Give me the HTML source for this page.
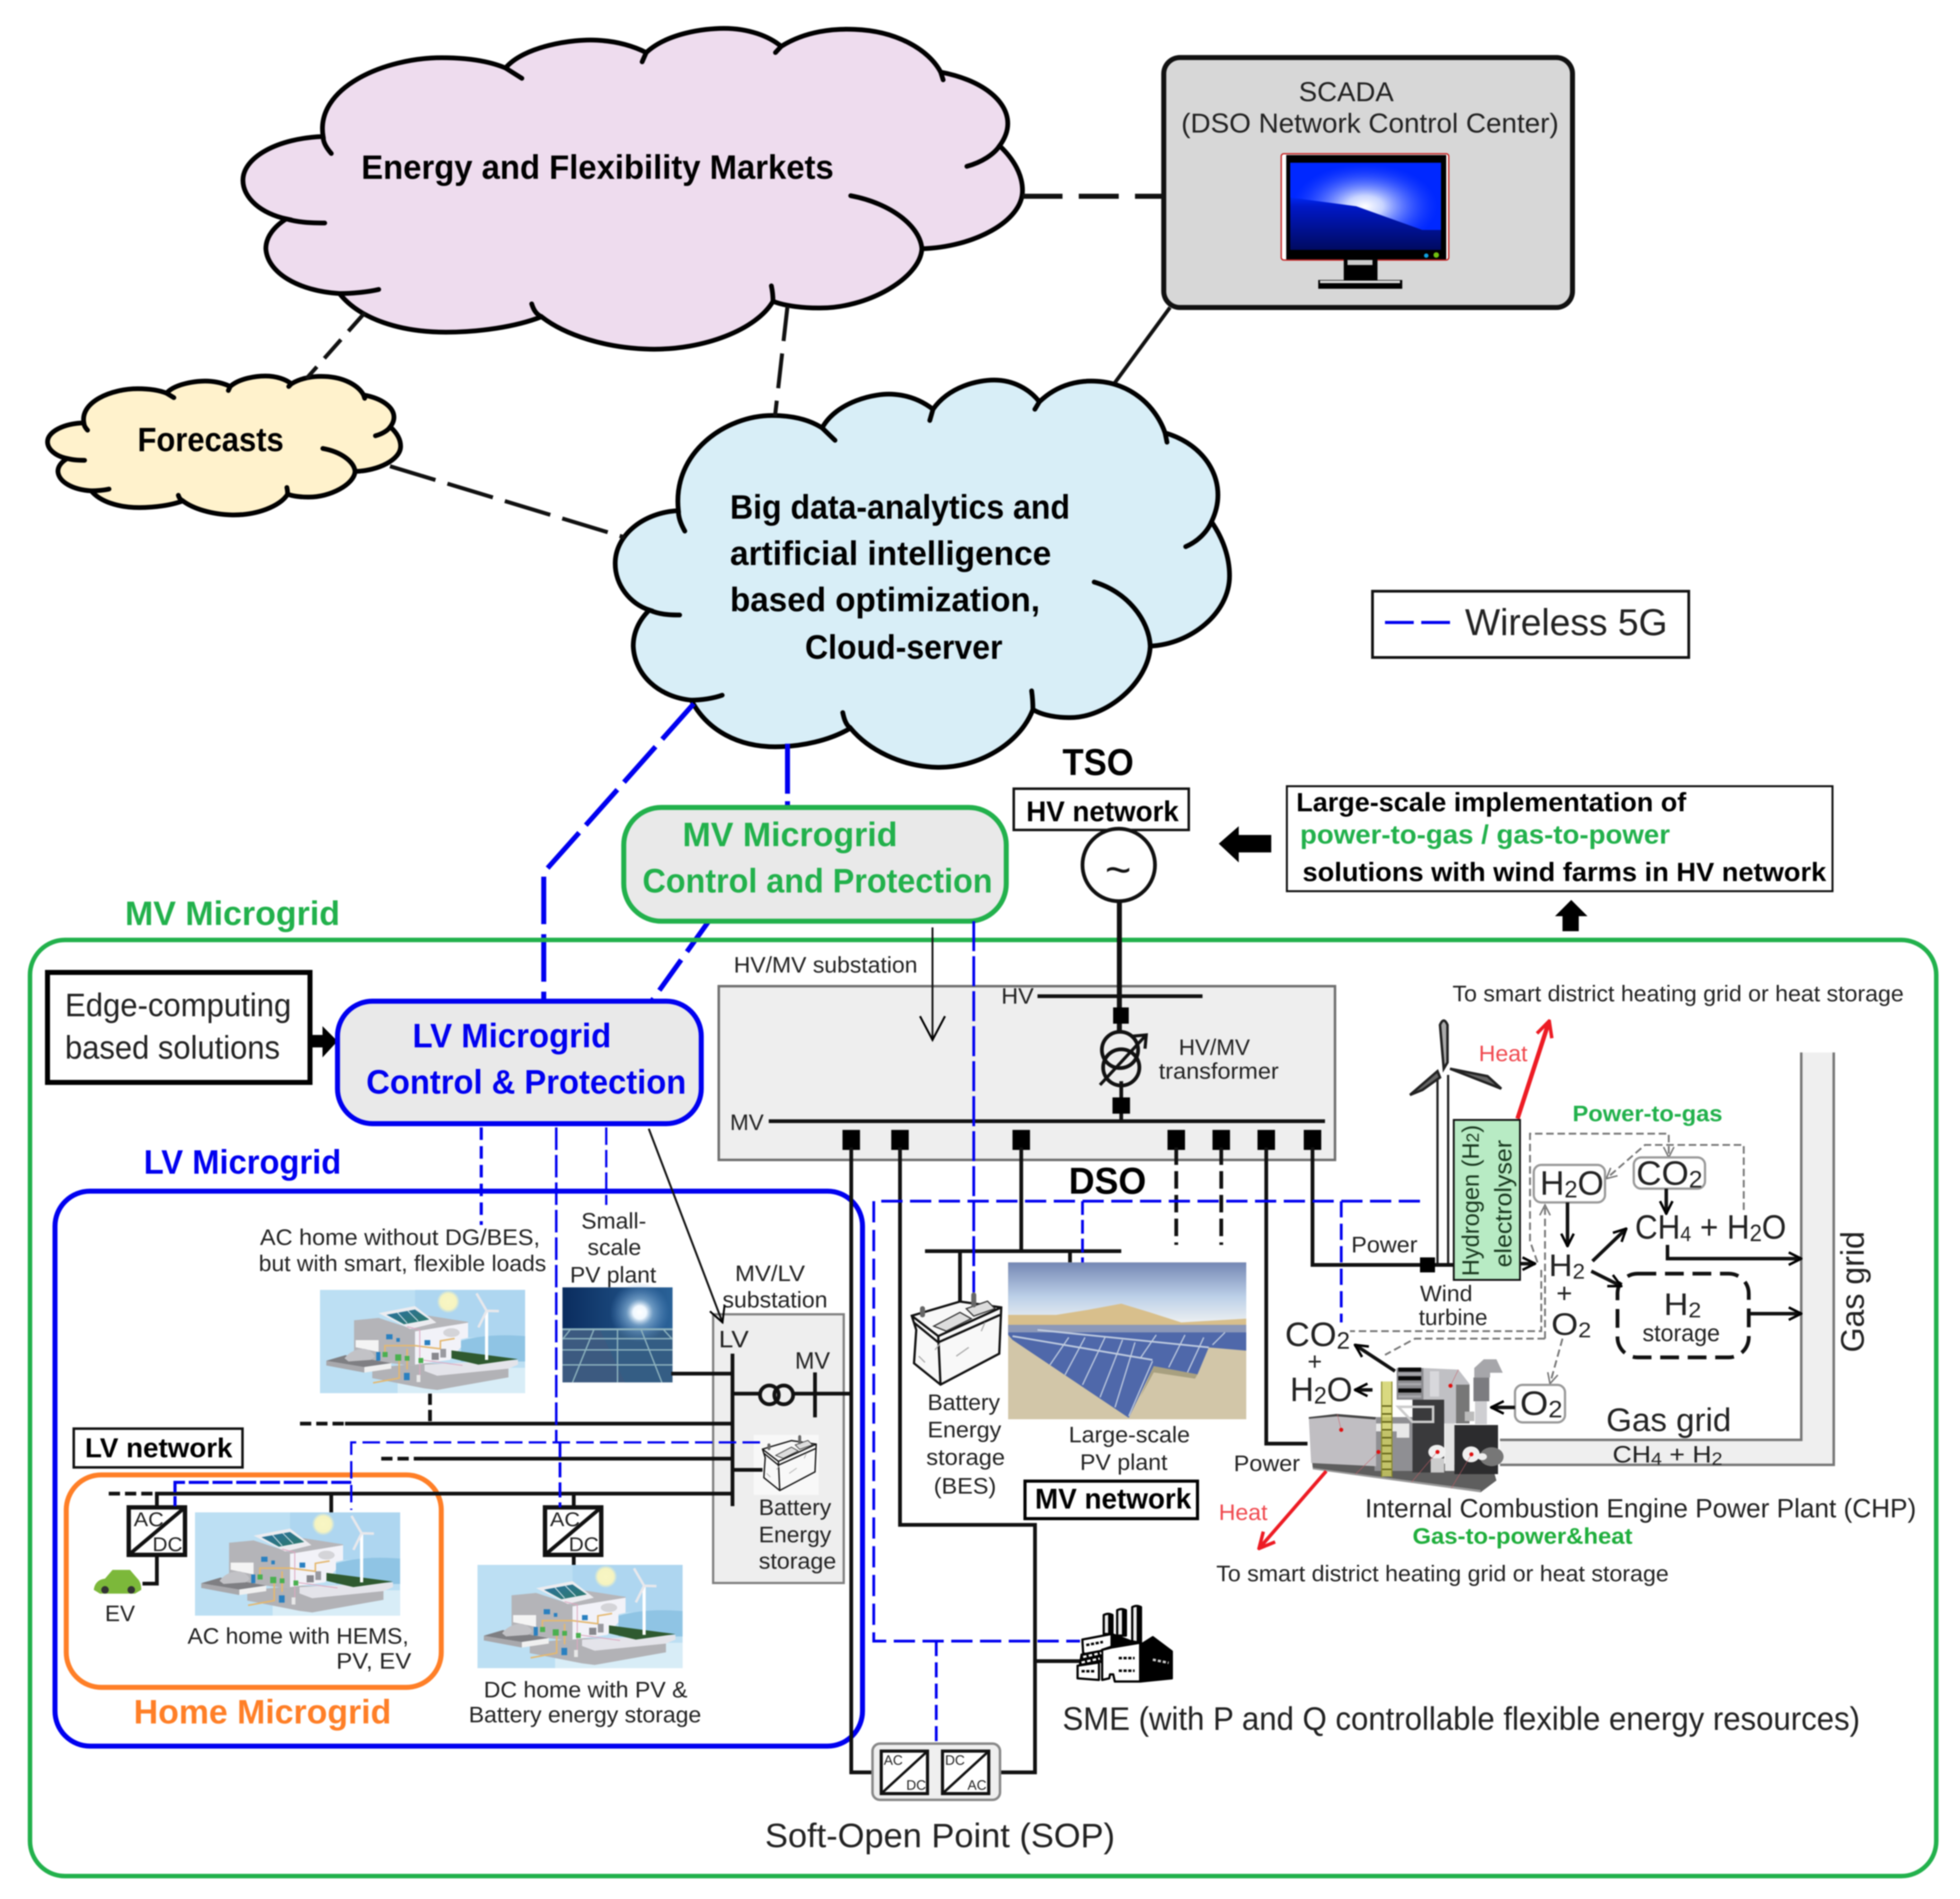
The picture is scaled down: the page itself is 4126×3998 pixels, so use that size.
<!DOCTYPE html>
<html><head><meta charset="utf-8"><style>
html,body{margin:0;padding:0;background:#fff}
svg{display:block;filter:blur(1.4px)}
text{font-family:"Liberation Sans",sans-serif;fill:#222}
.b{font-weight:bold;fill:#000}
.c path{vector-effect:non-scaling-stroke;stroke:#000;stroke-width:10;stroke-linecap:round}
</style></head><body>
<svg xmlns="http://www.w3.org/2000/svg" width="4126" height="3998" viewBox="0 0 1568 1519.3">
<defs>
<linearGradient id="scr" x1="0" y1="0" x2="0" y2="1"><stop offset="0" stop-color="#0028ff"/><stop offset=".4" stop-color="#0028f0"/><stop offset=".5" stop-color="#0018c8"/><stop offset="1" stop-color="#000a60"/></linearGradient>
<radialGradient id="glare" cx=".5" cy=".5" r=".5"><stop offset="0" stop-color="#fff"/><stop offset=".25" stop-color="#c8d4ff"/><stop offset="1" stop-color="#3050ff" stop-opacity="0"/></radialGradient>
<clipPath id="scrClip"><path d="M1032.200 130.200H1152.800V184L1138 184L1085 165L1032.200 158Z"/></clipPath>
<linearGradient id="sky" x1="0" y1="0" x2="0" y2="1"><stop offset="0" stop-color="#7487b4"/><stop offset=".55" stop-color="#bcd0e8"/><stop offset="1" stop-color="#f0f2f2"/></linearGradient>
<linearGradient id="pvs" x1="0" y1="0" x2="1" y2="0"><stop offset="0" stop-color="#0a2c5e"/><stop offset="1" stop-color="#2a6298"/></linearGradient>
<radialGradient id="sun"><stop offset="0" stop-color="#fff"/><stop offset=".22" stop-color="#f0f8ff"/><stop offset=".45" stop-color="#8ab4d8" stop-opacity=".7"/><stop offset="1" stop-color="#5a90c8" stop-opacity="0"/></radialGradient>
<radialGradient id="sunh"><stop offset="0" stop-color="#f8f6c4"/><stop offset=".7" stop-color="#f6f4c0"/><stop offset="1" stop-color="#f6f4c0" stop-opacity="0"/></radialGradient>
<linearGradient id="panel" x1="0" y1="0" x2="1" y2="1"><stop offset="0" stop-color="#2a70a0"/><stop offset="1" stop-color="#2e7a68"/></linearGradient>
<marker id="a" viewBox="0 0 12 12" refX="11" refY="6" markerWidth="12" markerHeight="12" markerUnits="userSpaceOnUse" orient="auto"><path d="M1 1L11 6L1 11" fill="none" stroke="#000" stroke-width="2"/></marker>
<marker id="a2" viewBox="0 0 24 24" refX="22" refY="12" markerWidth="24" markerHeight="24" markerUnits="userSpaceOnUse" orient="auto"><path d="M3 2L22 12L3 22" fill="none" stroke="#000" stroke-width="1.600"/></marker>
<marker id="a3" viewBox="0 0 24 24" refX="22" refY="12" markerWidth="15" markerHeight="15" markerUnits="userSpaceOnUse" orient="auto"><path d="M3 2L22 12L3 22" fill="none" stroke="#000" stroke-width="2.500"/></marker>
<marker id="ag" viewBox="0 0 12 12" refX="11" refY="6" markerWidth="10" markerHeight="10" markerUnits="userSpaceOnUse" orient="auto"><path d="M1 1L11 6L1 11" fill="none" stroke="#777" stroke-width="1.500"/></marker>
<marker id="ar" viewBox="0 0 12 12" refX="10" refY="6" markerWidth="15" markerHeight="15" markerUnits="userSpaceOnUse" orient="auto"><path d="M1 1L11 6L1 11" fill="none" stroke="#ed1c24" stroke-width="2.200"/></marker>
<g id="cl" class="c">
<path d="M395 265C385 170 470 112 540 112C575 112 600 120 618 132C640 90 700 75 730 78C755 80 775 90 790 102C815 65 860 55 885 55C915 55 940 70 955 90C985 60 1020 55 1045 57C1095 60 1135 95 1150 140C1200 155 1232 195 1232 240C1232 255 1228 270 1222 283C1240 310 1250 340 1250 370C1250 430 1190 480 1127 483C1125 540 1060 600 1000 598C985 598 960 595 945 585C925 640 860 680 795 678C740 676 690 650 662 615C630 635 585 645 545 645C490 645 440 620 415 570C365 565 327 530 325 483C325 460 335 440 350 425C320 415 297 385 297 350C297 305 340 268 395 265Z"/>
<path fill="none" d="M405 298C398 285 395 275 395 265M618 132L638 152M785 120L790 102M948 102L955 90M1150 140L1153 155M1222 283C1215 300 1200 315 1182 323M1040 380C1090 395 1125 440 1127 483M943 555C945 570 945 580 945 585M662 615C655 610 652 600 650 590M415 570C430 570 450 567 463 562M350 425C365 432 380 433 397 433"/>
</g>
<g id="house" transform="translate(-5.070 -6.080) scale(.1267)">
<rect x="40" y="48" width="1295" height="652" fill="#bcdff3"/>
<rect x="640" y="48" width="695" height="300" fill="#aed6f0"/>
<rect x="530" y="540" width="805" height="160" fill="#d8edf7"/>
<path d="M930 370Q1100 320 1335 340V500H930Z" fill="#8fc4e4"/>
<circle cx="850" cy="122" r="72" fill="url(#sunh)"/>
<path d="M370 540L370 605L700 670L780 680L1230 600V530L700 510Z" fill="#b2b2b6"/>
<path d="M255 240L410 225L640 300V530L255 480Z" fill="#b4b4b8"/>
<path d="M720 210L975 250V262L640 320L630 290Z" fill="#b6b6ba"/>
<path d="M640 310L975 255V350L930 360V410L860 490L640 520Z" fill="#f2f2f8"/>
<path d="M410 195L640 150L775 255L610 295Z" fill="#ececf0"/>
<path d="M460 205L640 172L730 235L570 265Z" fill="url(#panel)"/>
<path d="M530 192L590 258M595 180L660 245" stroke="#cfe0e8" stroke-width="6" fill="none"/>
<path d="M265 365H410V440L265 410Z" fill="#f4f4f4"/>
<path d="M80 495L200 460L490 510L320 535L80 525Z" fill="#7f7f83"/>
<path d="M80 495V525L320 570V535Z" fill="#a8a8ac"/>
<path d="M320 535L490 510V545L320 570Z" fill="#f0f0f0"/>
<path d="M195 480Q240 420 320 420Q370 430 385 470L360 490L220 500Z" fill="#c2c2c6"/>
<path d="M700 520L1290 490V520L1230 545L780 590L700 560Z" fill="#e4e4ea"/>
<path d="M870 430L1290 485L1040 520L870 480Z" fill="#2f5a30"/>
<path d="M1092 490V185" stroke="#fff" stroke-width="20"/>
<path d="M1092 180L1028 70M1092 180L1170 182M1092 180L1040 285" stroke="#e8e8ec" stroke-width="16"/>
<path d="M375 635L540 605V460M450 460V400H640L800 420V370L890 355M590 420V550" fill="none" stroke="#e4b870" stroke-width="10"/>
<path d="M590 280L670 300V600" fill="none" stroke="#dca8c0" stroke-width="6"/>
<path d="M680 490L940 525" fill="none" stroke="#dca8c0" stroke-width="6"/>
<g fill="#4ab050"><rect x="435" y="440" width="32" height="32"/><rect x="515" y="455" width="38" height="40"/><rect x="575" y="465" width="30" height="30"/><rect x="662" y="478" width="30" height="32"/></g>
<g fill="#2a80c0"><rect x="458" y="328" width="40" height="32"/><rect x="522" y="352" width="22" height="24"/><rect x="700" y="365" width="36" height="32"/><rect x="395" y="440" width="26" height="55"/><rect x="570" y="572" width="36" height="46"/></g>
<rect x="745" y="445" width="45" height="45" fill="#88888e"/><rect x="800" y="420" width="36" height="55" fill="#9a9aa0"/>
<ellipse cx="870" cy="318" rx="52" ry="28" fill="#d4d4d8"/>
<rect x="650" y="585" width="24" height="45" fill="#e8e8e8"/>
</g>
<g id="bat">
<path d="M733 1064L729.400 1052.700L768 1041.300L801 1046L799.400 1083L752.400 1107.800L731.200 1090.700Z" fill="#f8f8f8" stroke="#111" stroke-width="1.800"/>
<path d="M729.400 1052.700L750.600 1069L801 1046M750.600 1069L752.400 1107.800M731 1058L750.600 1074L800 1052" fill="none" stroke="#111" stroke-width="1.800"/>
<path d="M747 1061L768 1050L777 1055L757 1065Z M773 1047L790 1041L796 1047L779 1053Z" fill="#ddd" stroke="#333" stroke-width="1"/>
<path d="M738 1047V1052M779 1036V1044" stroke="#666" stroke-width="4" stroke-linecap="round"/>
<path d="M735 1085L740 1090M748 1080L752 1075M765 1085L775 1078M785 1065L788 1058" stroke="#aaa" stroke-width="1" fill="none"/>
</g>
<g id="conv"><rect width="45" height="38" fill="#fff" stroke="#111" stroke-width="3.500"/><path d="M0 38L45 0" stroke="#111" stroke-width="3"/></g>
</defs>

<!-- clouds -->
<use href="#cl" fill="#eedcee" transform="matrix(.6544 0 0 .412 0 0)"/>
<use href="#cl" fill="#d8eef7" transform="matrix(.5157 0 0 .4973 339 276.700)"/>
<use href="#cl" fill="#fff2cc" transform="matrix(.2964 0 0 .1784 -50 291)"/>

<text class="b" x="289" y="143" font-size="27" textLength="378" lengthAdjust="spacingAndGlyphs">Energy and Flexibility Markets</text>
<text class="b" x="110" y="361" font-size="27" textLength="117" lengthAdjust="spacingAndGlyphs">Forecasts</text>
<text class="b" x="584" y="415" font-size="27" textLength="272" lengthAdjust="spacingAndGlyphs">Big data-analytics and</text>
<text class="b" x="584" y="452" font-size="27" textLength="257" lengthAdjust="spacingAndGlyphs">artificial intelligence</text>
<text class="b" x="584" y="489" font-size="27" textLength="248" lengthAdjust="spacingAndGlyphs">based optimization,</text>
<text class="b" x="644" y="527" font-size="27" textLength="158" lengthAdjust="spacingAndGlyphs">Cloud-server</text>

<!-- SCADA -->
<rect x="931" y="46" width="327" height="200" rx="13" fill="#d7d7d7" stroke="#111" stroke-width="4"/>
<text x="1039" y="81" font-size="22" textLength="76" lengthAdjust="spacingAndGlyphs">SCADA</text>
<text x="945" y="106" font-size="22" textLength="302" lengthAdjust="spacingAndGlyphs">(DSO Network Control Center)</text>
<rect x="1025" y="123" width="134" height="85" rx="2" fill="#fff" stroke="#c41818" stroke-width="1"/>
<rect x="1029" y="124" width="128" height="83.500" fill="#000"/>
<rect x="1032.200" y="130.200" width="120.600" height="69.700" fill="url(#scr)"/>
<g clip-path="url(#scrClip)"><rect x="1032" y="130" width="121" height="70" fill="#0028ff"/><ellipse cx="1092" cy="165" rx="58" ry="34" fill="url(#glare)"/></g>
<circle cx="1141" cy="204.500" r="1.800" fill="#10a0e0"/><circle cx="1149" cy="204" r="2.200" fill="#70c010"/>
<rect x="1075" y="207.500" width="27" height="17" fill="#000"/><rect x="1078" y="208" width="20" height="4" fill="#ccc"/>
<rect x="1054.600" y="224" width="67.200" height="7" fill="#000"/><rect x="1056" y="224.500" width="64" height="2" fill="#ddd"/>

<!-- connectors top -->
<g fill="none" stroke="#111">
<path d="M818 157H931" stroke-width="4" stroke-dasharray="32 13"/>
<path d="M892 306L936 246" stroke-width="3"/>
<path d="M292 250L245 303" stroke-width="3.200" stroke-dasharray="20 9"/>
<path d="M630 245L620 333" stroke-width="3.200" stroke-dasharray="28 10"/>
<path d="M312 373L500 430" stroke-width="3.200" stroke-dasharray="38 10"/>
</g>
<g fill="none" stroke="#0000f0" stroke-width="4">
<path d="M555 563L435 698V800" stroke-dasharray="38 8"/>
<path d="M630 595V647" stroke-dasharray="40 6"/>
<path d="M567 737L522 800" stroke-dasharray="30 8"/>
</g>

<!-- wireless legend -->
<rect x="1098" y="473" width="253" height="53" fill="#fff" stroke="#111" stroke-width="2.200"/>
<path d="M1108 498H1160" stroke="#0000f0" stroke-width="2.500" stroke-dasharray="23 6" fill="none"/>
<text x="1172" y="508" font-size="30" textLength="162" lengthAdjust="spacingAndGlyphs">Wireless 5G</text>

<!-- outer MV -->
<rect x="24" y="752" width="1525" height="749" rx="28" fill="none" stroke="#22b14c" stroke-width="3.600"/>
<text class="b" x="100" y="740" font-size="27" textLength="172" lengthAdjust="spacingAndGlyphs" style="fill:#22b14c">MV Microgrid</text>

<!-- MV control -->
<rect x="499" y="646" width="306" height="91" rx="30" fill="#e9e9e9" stroke="#22b14c" stroke-width="4"/>
<text class="b" x="546" y="677" font-size="27" textLength="172" lengthAdjust="spacingAndGlyphs" style="fill:#22b14c">MV Microgrid</text>
<text class="b" x="514" y="714" font-size="27" textLength="280" lengthAdjust="spacingAndGlyphs" style="fill:#22b14c">Control and Protection</text>

<!-- TSO -->
<text class="b" x="850" y="620" font-size="30" textLength="57" lengthAdjust="spacingAndGlyphs">TSO</text>
<rect x="811" y="631" width="140" height="33" fill="#fff" stroke="#111" stroke-width="2"/>
<text class="b" x="821" y="657" font-size="23" textLength="122" lengthAdjust="spacingAndGlyphs">HV network</text>
<circle cx="895" cy="692" r="29" fill="#fff" stroke="#111" stroke-width="3"/>
<text x="884" y="708" font-size="36" style="fill:#111">~</text>
<path d="M975 675L991 661V668H1017V682H991V690Z" fill="#000"/>
<rect x="1029.500" y="629" width="436.500" height="84" fill="#fff" stroke="#111" stroke-width="1.600"/>
<text class="b" x="1037" y="649" font-size="21" textLength="312" lengthAdjust="spacingAndGlyphs">Large-scale implementation of</text>
<text class="b" x="1040" y="675" font-size="21" textLength="296" lengthAdjust="spacingAndGlyphs" style="fill:#22b14c">power-to-gas / gas-to-power</text>
<text class="b" x="1042" y="705" font-size="21" textLength="419" lengthAdjust="spacingAndGlyphs">solutions with wind farms in HV network</text>
<path d="M1257 720L1270 733H1263V745H1250V733H1244Z" fill="#000"/>

<!-- Edge -->
<rect x="38" y="778" width="210" height="88" fill="#fff" stroke="#000" stroke-width="4"/>
<text x="52" y="813" font-size="26" textLength="181" lengthAdjust="spacingAndGlyphs">Edge-computing</text>
<text x="52" y="847" font-size="26" textLength="172" lengthAdjust="spacingAndGlyphs">based solutions</text>
<path d="M248 828H258V821L270 833L258 846V838H248Z" fill="#000"/>

<!-- HV/MV substation -->
<rect x="575" y="789" width="493" height="139" fill="#eeeeee" stroke="#707070" stroke-width="2"/>
<text x="587" y="778" font-size="18" textLength="147" lengthAdjust="spacingAndGlyphs">HV/MV substation</text>
<text x="801" y="803" font-size="18" textLength="26" lengthAdjust="spacingAndGlyphs">HV</text>
<text x="584" y="904" font-size="18" textLength="27" lengthAdjust="spacingAndGlyphs">MV</text>
<text x="943" y="844" font-size="18" textLength="57" lengthAdjust="spacingAndGlyphs">HV/MV</text>
<text x="927" y="863" font-size="18" textLength="96" lengthAdjust="spacingAndGlyphs">transformer</text>
<path d="M895.500 721V826" stroke="#111" stroke-width="4"/>
<path d="M830 797H962" stroke="#111" stroke-width="3"/>
<path d="M615 897H1060" stroke="#111" stroke-width="3"/>
<g fill="none" stroke="#111" stroke-width="3">
<circle cx="896" cy="840" r="14.500"/><circle cx="897" cy="854" r="14.500"/>
<path d="M880 868L917 828M906 829L917 828L916 839" stroke-width="2.500"/>
<path d="M897 865V897"/>
</g>
<g fill="#000">
<rect x="890.500" y="806" width="12.500" height="13"/><rect x="890" y="878" width="14" height="13"/>
<rect x="674" y="904" width="14" height="16"/><rect x="713" y="904" width="14" height="16"/><rect x="810" y="904" width="14" height="16"/><rect x="934" y="904" width="14" height="16"/><rect x="970" y="904" width="14" height="16"/><rect x="1006" y="904" width="14" height="16"/><rect x="1043" y="904" width="14" height="16"/>
</g>
<path d="M746 742V832" stroke="#111" stroke-width="1.500" marker-end="url(#a2)"/>
<text class="b" x="855" y="955" font-size="30" textLength="62" lengthAdjust="spacingAndGlyphs">DSO</text>

<!-- LV Microgrid -->
<text class="b" x="115" y="939" font-size="27" textLength="158" lengthAdjust="spacingAndGlyphs" style="fill:#0000f0">LV Microgrid</text>
<rect x="44" y="953" width="646" height="444" rx="28" fill="#fff" stroke="#0000f0" stroke-width="4"/>
<rect x="53" y="1180" width="300" height="170" rx="28" fill="none" stroke="#ff7f27" stroke-width="4"/>
<text class="b" x="107" y="1379" font-size="27" textLength="206" lengthAdjust="spacingAndGlyphs" style="fill:#ff7f27">Home Microgrid</text>

<!-- MV/LV substation -->
<rect x="570.500" y="1051.500" width="104.500" height="215" fill="#eeeeee" stroke="#808080" stroke-width="1.800"/>
<text x="588" y="1025" font-size="18" textLength="56" lengthAdjust="spacingAndGlyphs">MV/LV</text>
<text x="578" y="1046" font-size="18" textLength="84" lengthAdjust="spacingAndGlyphs">substation</text>
<text x="575" y="1078" font-size="19" textLength="24" lengthAdjust="spacingAndGlyphs">LV</text>
<text x="636" y="1095" font-size="19" textLength="28" lengthAdjust="spacingAndGlyphs">MV</text>
<text x="607" y="1212" font-size="18" textLength="58" lengthAdjust="spacingAndGlyphs">Battery</text>
<text x="607" y="1234" font-size="18" textLength="58" lengthAdjust="spacingAndGlyphs">Energy</text>
<text x="607" y="1255" font-size="18" textLength="62" lengthAdjust="spacingAndGlyphs">storage</text>
<rect x="603" y="1148" width="52" height="48" fill="#f8f8f8"/>
<use href="#bat" transform="translate(610 1150) scale(.6) translate(-729.400 -1037)"/>

<!-- images -->
<g transform="translate(256 1032)"><use href="#house"/></g>
<g transform="translate(156 1210)"><use href="#house"/></g>
<g transform="translate(382 1252)"><use href="#house"/></g>
<rect x="450" y="1030" width="88" height="76" fill="#3c5a80"/>
<rect x="450" y="1030" width="88" height="33.500" fill="url(#pvs)"/>
<path d="M480 1064H538V1106H500Z" fill="#2c6088" opacity=".5"/>
<circle cx="511.800" cy="1050" r="24" fill="url(#sun)"/>
<path d="M450 1063.500H538" stroke="#8fb4bf" stroke-width="1.600"/>
<path d="M450 1071H538M450 1080H538M450 1092H538M494 1064V1106M475 1064L458 1106M513 1064L529.500 1106M456 1064L450 1071.600M531 1064L538 1071.600" stroke="#8fb4bf" stroke-width="1.100" fill="none"/>

<!-- LV lines -->
<g fill="none" stroke="#111" stroke-width="3">
<path d="M276 1139H586M339 1167H586M124 1195H586M586 1083V1205M537 1099H586M586 1115H608M635 1115H682M652 1098V1134M586 1176H610"/>
<path d="M240 1139H276M305 1167H339M87 1195H124M344 1115V1139" stroke-dasharray="9 4"/>
<circle cx="615.500" cy="1116" r="7.500"/><circle cx="627" cy="1116" r="7.500"/>
<path d="M125.500 1195V1206M125.500 1244V1267H114M265 1195V1210M459 1195V1206M459 1244V1252"/>
</g>
<use href="#conv" x="103" y="1206"/><use href="#conv" x="436" y="1206"/>
<text x="107" y="1221" font-size="16" textLength="24" lengthAdjust="spacingAndGlyphs">AC</text><text x="122" y="1241" font-size="16" textLength="24" lengthAdjust="spacingAndGlyphs">DC</text>
<text x="440" y="1221" font-size="16" textLength="24" lengthAdjust="spacingAndGlyphs">AC</text><text x="455" y="1241" font-size="16" textLength="24" lengthAdjust="spacingAndGlyphs">DC</text>
<path d="M75 1272Q76 1264 84 1263L90 1256H104L110 1263Q113 1266 113 1272L108 1275H80Z" fill="#7cb83a"/><circle cx="84" cy="1272" r="3" fill="#333"/><circle cx="105" cy="1272" r="3" fill="#333"/>
<text x="84" y="1297" font-size="18" textLength="24" lengthAdjust="spacingAndGlyphs">EV</text>

<!-- LV blue dashes -->
<g fill="none" stroke="#0000f0" stroke-width="2.200">
<path d="M385 902V980" stroke-dasharray="10 5" stroke-width="2.500"/>
<path d="M445 902V1154" stroke-dasharray="18 4" stroke-width="2"/>
<path d="M448 1154V1206" stroke-dasharray="12 4"/>
<path d="M485 902V964" stroke-dasharray="14 4" stroke-width="1.800"/>
<path d="M608 1154H281V1208" stroke-dasharray="14 5" stroke-width="1.800"/>
<path d="M281 1186H140V1205" stroke-dasharray="16 3" stroke-width="2.500"/>
</g>
<path d="M519 903L578 1058" stroke="#111" stroke-width="1.600" marker-end="url(#a3)" fill="none"/>

<text x="208" y="996" font-size="18" textLength="224" lengthAdjust="spacingAndGlyphs">AC home without DG/BES,</text>
<text x="207" y="1017" font-size="18" textLength="230" lengthAdjust="spacingAndGlyphs">but with smart, flexible loads</text>
<text x="465" y="983" font-size="18" textLength="52" lengthAdjust="spacingAndGlyphs">Small-</text>
<text x="470" y="1004" font-size="18" textLength="43" lengthAdjust="spacingAndGlyphs">scale</text>
<text x="456" y="1026" font-size="18" textLength="69" lengthAdjust="spacingAndGlyphs">PV plant</text>
<rect x="59" y="1143" width="135" height="31" fill="#fff" stroke="#111" stroke-width="2"/>
<text class="b" x="68" y="1166" font-size="22" textLength="118" lengthAdjust="spacingAndGlyphs">LV network</text>
<text x="150" y="1315" font-size="18" textLength="177" lengthAdjust="spacingAndGlyphs">AC home with HEMS,</text>
<text x="269" y="1335" font-size="18" textLength="60" lengthAdjust="spacingAndGlyphs">PV, EV</text>
<text x="387" y="1358" font-size="18" textLength="163" lengthAdjust="spacingAndGlyphs">DC home with PV &amp;</text>
<text x="375" y="1378" font-size="18" textLength="186" lengthAdjust="spacingAndGlyphs">Battery energy storage</text>

<!-- LV control box -->
<rect x="270" y="801" width="291" height="98" rx="28" fill="#e9e9e9" stroke="#0000f0" stroke-width="4"/>
<text class="b" x="330" y="838" font-size="27" textLength="159" lengthAdjust="spacingAndGlyphs" style="fill:#0000f0">LV Microgrid</text>
<text class="b" x="293" y="875" font-size="27" textLength="256" lengthAdjust="spacingAndGlyphs" style="fill:#0000f0">Control &amp; Protection</text>

<!-- MV feeders -->
<g fill="none" stroke="#111" stroke-width="3">
<path d="M681 918V1418H698M720 918V1220H828V1418H800M828 1329H864"/>
<path d="M817 918V1001M740 1001H897M768 1001V1042M856 1001V1010"/>
<path d="M1013 918V1155H1046M1050 918V1012H1163"/>
<path d="M941 918V996M977 918V996" stroke-dasharray="14 5"/>
</g>
<rect x="1136" y="1006" width="12" height="12" fill="#000"/>

<!-- BES + PV -->
<use href="#bat"/>
<rect x="806.500" y="1010" width="190.500" height="125.500" fill="#d2c6a8"/>
<rect x="806.500" y="1010" width="190.500" height="50" fill="url(#sky)"/>
<path d="M806.500 1052L845 1052L870 1048L897 1043L920 1050L945 1058L997 1055V1062H806.500Z" fill="#d8bf8c"/>
<path d="M806.500 1060H997V1080.600L967 1078L958 1099.600L923 1093L903 1134.400L810 1072L806.500 1068Z" fill="#4f68aa"/>
<path d="M806.500 1060H997V1066H806.500Z" fill="#8c98b8"/>
<path d="M923 1093L958 1099.600L956 1103L923 1098L912 1118Z" fill="#a8a080"/>
<g fill="none" stroke="#c0cce0" stroke-width="1">
<path d="M840 1092L855 1070M852 1100L868 1070M866 1108L884 1070M880 1118L898 1072M892 1126L908 1074M903 1133L922 1089M912 1087L925 1068M935 1094L948 1068M950 1098L963 1070M970 1076L980 1066"/>
<path d="M810 1069L922 1088M830 1064L967 1078" stroke-width="1.400"/>
</g>
<text x="742" y="1128" font-size="18" textLength="58" lengthAdjust="spacingAndGlyphs">Battery</text>
<text x="742" y="1150" font-size="18" textLength="59" lengthAdjust="spacingAndGlyphs">Energy</text>
<text x="741" y="1172" font-size="18" textLength="63" lengthAdjust="spacingAndGlyphs">storage</text>
<text x="747" y="1195" font-size="18" textLength="50" lengthAdjust="spacingAndGlyphs">(BES)</text>
<text x="855" y="1154" font-size="18" textLength="97" lengthAdjust="spacingAndGlyphs">Large-scale</text>
<text x="864" y="1176" font-size="18" textLength="70" lengthAdjust="spacingAndGlyphs">PV plant</text>
<rect x="820" y="1185" width="138" height="30" fill="#fff" stroke="#000" stroke-width="2.500"/>
<text class="b" x="828" y="1207" font-size="23" textLength="125" lengthAdjust="spacingAndGlyphs">MV network</text>

<!-- DSO blue dashes -->
<g fill="none" stroke="#0000f0" stroke-width="2.200">
<path d="M1136 961H699V1313H864" stroke-dasharray="17 6"/>
<path d="M749 1313V1395" stroke-dasharray="12 5"/>
<path d="M779 737V1034" stroke-dasharray="24 4"/>
<path d="M866 961V1010" stroke-dasharray="11 4"/>
<path d="M1073 961V1058" stroke-dasharray="13 5"/>
</g>

<!-- SOP -->
<rect x="698" y="1395" width="102" height="45" rx="6" fill="#efefef" stroke="#888" stroke-width="2"/>
<rect x="705" y="1401" width="37" height="34" fill="#fff" stroke="#111" stroke-width="2.500"/><path d="M705 1435L742 1401" stroke="#111" stroke-width="2"/>
<rect x="754" y="1401" width="37" height="34" fill="#fff" stroke="#111" stroke-width="2.500"/><path d="M754 1435L791 1401" stroke="#111" stroke-width="2"/>
<text x="707" y="1412" font-size="11">AC</text><text x="725" y="1432" font-size="11">DC</text>
<text x="756" y="1412" font-size="11">DC</text><text x="774" y="1432" font-size="11">AC</text>
<text x="612" y="1478" font-size="27" textLength="280" lengthAdjust="spacingAndGlyphs">Soft-Open Point (SOP)</text>

<!-- SME -->
<g transform="translate(851.300 1269.300) scale(.1267)" stroke="#000" stroke-width="14" stroke-linejoin="round">
<path d="M480 370L560 320L680 410V580L480 600Z" fill="#000"/>
<path d="M250 300V180Q278 165 305 180V300Z M335 310V150Q362 135 390 150V310Z M430 360V130Q458 115 485 130V360Z" fill="#eee"/>
<path d="M285 300V180L305 180V300Z M372 310V150H390V310Z M465 360V130H485V360Z" fill="#000"/>
<path d="M115 335L300 300V380L240 400V480L120 420Z" fill="#fff"/>
<path d="M300 300L420 345L480 355L300 385Z" fill="#000"/>
<path d="M240 400L300 385L480 355V600L320 600L310 555H290L285 580L240 590Z" fill="#fff"/>
<path d="M110 430L240 405L220 480L100 495Z" fill="#000"/>
<path d="M85 500L220 480V590L85 580Z" fill="#fff"/>
<path d="M140 370L245 350M345 452H445M345 532H445M110 535H195" stroke-width="16" stroke-dasharray="20 10" fill="none"/>
<path d="M560 462L660 482" stroke="#ccc" stroke-width="16" stroke-dasharray="20 12" fill="none"/>
<path d="M120 445L235 420M110 480L225 455" stroke="#fff" stroke-width="14" stroke-dasharray="22 14" fill="none"/>
</g>
<text x="850" y="1384" font-size="26" textLength="638" lengthAdjust="spacingAndGlyphs">SME (with P and Q controllable flexible energy resources)</text>

<!-- Gas grid -->
<path d="M1441 842H1467V1172H1200V1152H1441Z" fill="#efefef"/>
<path d="M1441 842V1152H1200M1467 842V1172H1200" fill="none" stroke="#777" stroke-width="2"/>
<text x="1285" y="1145" font-size="26" textLength="100" lengthAdjust="spacingAndGlyphs">Gas grid</text>
<text x="1290" y="1170" font-size="19" textLength="88" lengthAdjust="spacingAndGlyphs">CH<tspan font-size="14" dy="2">4</tspan><tspan dy="-2"> + H</tspan><tspan font-size="14" dy="2">2</tspan></text>
<text transform="translate(1491 1082) rotate(-90)" font-size="26" textLength="97" lengthAdjust="spacingAndGlyphs">Gas grid</text>

<!-- wind turbine -->
<g fill="none" stroke="#222">
<path d="M1150 860V1012M1158.500 860V1012" stroke-width="1.800"/>
<path d="M1155 855L1152 820Q1155 813 1158 820L1158 850Z" fill="#aaa" stroke-width="2"/>
<path d="M1150 857L1128 876L1138 872L1152 862Z M1160 855L1201 871L1190 861Z" fill="#666" stroke-width="2"/>
</g>
<path d="M1148 1012H1163" stroke="#111" stroke-width="3"/>

<!-- electrolyser -->
<path d="M1214 895L1239 818" stroke="#ed1c24" stroke-width="3.500" marker-end="url(#ar)" fill="none"/>
<rect x="1163" y="896" width="53" height="128" fill="#b8ebc4" stroke="#111" stroke-width="1.500"/>
<text transform="translate(1183 1021) rotate(-90)" font-size="19" textLength="121" lengthAdjust="spacingAndGlyphs" style="fill:#1a3a20">Hydrogen (H<tspan font-size="14">2</tspan>)</text>
<text transform="translate(1209 1014) rotate(-90)" font-size="19" textLength="102" lengthAdjust="spacingAndGlyphs" style="fill:#1a3a20">electrolyser</text>
<text x="1183" y="849" font-size="18" textLength="39" lengthAdjust="spacingAndGlyphs" style="fill:#f04a50">Heat</text>
<text x="1162" y="801" font-size="18" textLength="361" lengthAdjust="spacingAndGlyphs">To smart district heating grid or heat storage</text>
<text class="b" x="1258" y="897" font-size="18" textLength="120" lengthAdjust="spacingAndGlyphs" style="fill:#22b14c">Power-to-gas</text>
<text x="1081" y="1002" font-size="18" textLength="53" lengthAdjust="spacingAndGlyphs">Power</text>
<text x="1136" y="1041" font-size="18" textLength="42" lengthAdjust="spacingAndGlyphs">Wind</text>
<text x="1135" y="1060" font-size="18" textLength="55" lengthAdjust="spacingAndGlyphs">turbine</text>

<!-- gray dashed -->
<g fill="none" stroke="#777" stroke-width="1.500" stroke-dasharray="6 3">
<path d="M1230 1010L1224 993V907H1335V926" marker-end="url(#ag)"/>
<path d="M1395 968V916H1316L1285 943" marker-end="url(#ag)"/>
<path d="M1236 1071V964" marker-end="url(#ag)"/>
<path d="M1236 1071H1132L1108 1084"/>
<path d="M1233 1016V1065H1080"/>
<path d="M1250 1071L1240 1107" marker-end="url(#ag)"/>
</g>

<!-- chemistry -->
<g fill="#fff" stroke="#999" stroke-width="1.800">
<rect x="1227" y="932" width="57" height="30" rx="6"/>
<rect x="1307" y="926" width="57" height="25" rx="6"/>
<rect x="1212" y="1108" width="40" height="30" rx="6"/>
</g>
<text x="1232" y="956" font-size="27" textLength="51" lengthAdjust="spacingAndGlyphs">H<tspan font-size="19" dy="2">2</tspan><tspan dy="-2">O</tspan></text>
<text x="1309" y="948" font-size="27" textLength="53" lengthAdjust="spacingAndGlyphs">CO<tspan font-size="19" dy="2">2</tspan></text>
<text x="1308" y="991" font-size="27" textLength="121" lengthAdjust="spacingAndGlyphs">CH<tspan font-size="17" dy="2">4</tspan><tspan dy="-2"> + H</tspan><tspan font-size="19" dy="2">2</tspan><tspan dy="-2">O</tspan></text>
<text x="1239" y="1021" font-size="25" textLength="29" lengthAdjust="spacingAndGlyphs">H<tspan font-size="17" dy="2">2</tspan></text>
<text x="1245" y="1042" font-size="22">+</text>
<text x="1241" y="1068" font-size="25" textLength="32" lengthAdjust="spacingAndGlyphs">O<tspan font-size="17" dy="2">2</tspan></text>
<text x="1216" y="1132" font-size="27" textLength="34" lengthAdjust="spacingAndGlyphs">O<tspan font-size="19" dy="2">2</tspan></text>
<rect x="1294" y="1019" width="105" height="67" rx="16" fill="none" stroke="#111" stroke-width="3" stroke-dasharray="15 7"/>
<text x="1331" y="1052" font-size="25" textLength="30" lengthAdjust="spacingAndGlyphs">H<tspan font-size="17" dy="2">2</tspan></text>
<text x="1314" y="1073" font-size="19" textLength="62" lengthAdjust="spacingAndGlyphs">storage</text>
<g fill="none" stroke="#111" stroke-width="2.800">
<path d="M1254 962V997" marker-end="url(#a)"/>
<path d="M1333 951V971" marker-end="url(#a)"/>
<path d="M1274 1009L1301 983" marker-end="url(#a)"/>
<path d="M1273 1017L1297 1029" marker-end="url(#a)"/>
<path d="M1334 996V1007H1441" marker-end="url(#a)"/>
<path d="M1399 1051H1441" marker-end="url(#a)"/>
<path d="M1216 1011H1228" marker-end="url(#a)"/>
<path d="M1212 1126H1193" marker-end="url(#a)"/>
<path d="M1116 1097L1084 1076" marker-end="url(#a)"/>
<path d="M1098 1112H1084" marker-end="url(#a)"/>
</g>
<text x="1028" y="1077" font-size="27" textLength="52" lengthAdjust="spacingAndGlyphs">CO<tspan font-size="19" dy="2">2</tspan></text>
<text x="1046" y="1096" font-size="20">+</text>
<text x="1032" y="1121" font-size="27" textLength="50" lengthAdjust="spacingAndGlyphs">H<tspan font-size="19" dy="2">2</tspan><tspan dy="-2">O</tspan></text>

<!-- engine -->
<g transform="translate(1041.300 1079.300) scale(.1267)">
<path d="M65 700L70 750L1130 905L1230 830L1210 760L700 700Z" fill="#5e5e5e"/>
<path d="M70 750L1130 890V905L70 760Z" fill="#999"/>
<rect x="460" y="430" width="240" height="340" fill="#8f8f93"/>
<path d="M470 470H680V560H600V520H470Z" fill="#e8e8e8"/>
<path d="M45 430L220 410L470 430V740L60 720Z" fill="#c0bec2"/>
<path d="M45 430L220 410L470 430L465 445L220 425L45 440Z" fill="#444"/>
<rect x="600" y="120" width="170" height="200" fill="#8a8a8e"/>
<path d="M610 185H755M610 262H755M610 130H755" stroke="#0a0a0a" stroke-width="26"/>
<path d="M610 222H755M610 300H755M610 158H755" stroke="#a8a8ac" stroke-width="14"/>
<path d="M770 120L990 130L1060 220V470H900V320H770Z" fill="#c0c0c4"/>
<path d="M975 225H1060V470H975Z" fill="#777"/>
<rect x="810" y="140" width="58" height="160" fill="#d8d8dc"/>
<path d="M700 320H900V780H700Z" fill="#3a3a3c"/>
<path d="M610 365H830V460H700Z" fill="none" stroke="#ccc" stroke-width="16"/>
<rect x="905" y="470" width="60" height="300" fill="#e4e4e4"/>
<path d="M965 480H1240V790H965Z" fill="#2c2c2e"/>
<path d="M1090 180V120L1150 65H1230L1270 150H1190V180Z" fill="#a6a6aa"/>
<rect x="1085" y="180" width="100" height="150" fill="#7c7c80"/>
<rect x="1095" y="330" width="75" height="145" fill="#cfcfd2"/>
<rect x="1030" y="395" width="60" height="60" fill="#bbb"/>
<ellipse cx="1070" cy="665" rx="55" ry="50" fill="#f0f0f0"/>
<ellipse cx="855" cy="650" rx="55" ry="45" fill="#f0f0f0"/>
<rect x="815" y="690" width="85" height="90" fill="#ccc"/>
<ellipse cx="1200" cy="680" rx="75" ry="60" fill="#777"/>
<ellipse cx="1140" cy="680" rx="30" ry="22" fill="#eee"/>
<rect x="505" y="205" width="65" height="600" fill="#cfcf60" opacity=".8"/>
<path d="M505 360H570M505 410H570M505 460H570M505 510H570M505 560H570M505 610H570M505 660H570M505 710H570M505 760H570" stroke="#66661a" stroke-width="10"/>
<path d="M505 205V810M570 205V810" stroke="#88882a" stroke-width="7"/>
<path d="M250 510L225 410M940 232L990 130M485 650L340 790M855 650L695 840M1072 665L945 880" stroke="#c86068" stroke-width="3" fill="none"/>
<g fill="#e01010"><circle cx="250" cy="510" r="13"/><circle cx="940" cy="232" r="13"/><circle cx="485" cy="650" r="13"/><circle cx="858" cy="650" r="13"/><circle cx="1072" cy="665" r="13"/></g>
</g>
<path d="M1061 1177L1008 1238" stroke="#ed1c24" stroke-width="2.800" marker-end="url(#ar)" fill="none"/>
<text x="987" y="1177" font-size="18" textLength="53" lengthAdjust="spacingAndGlyphs">Power</text>
<text x="975" y="1216" font-size="18" textLength="39" lengthAdjust="spacingAndGlyphs" style="fill:#f04a50">Heat</text>
<text x="1092" y="1214" font-size="21" textLength="441" lengthAdjust="spacingAndGlyphs">Internal Combustion Engine Power Plant (CHP)</text>
<text class="b" x="1130" y="1235" font-size="18" textLength="176" lengthAdjust="spacingAndGlyphs" style="fill:#1fae3c">Gas-to-power&amp;heat</text>
<text x="973" y="1265" font-size="18" textLength="362" lengthAdjust="spacingAndGlyphs">To smart district heating grid or heat storage</text>
</svg>
</body></html>
